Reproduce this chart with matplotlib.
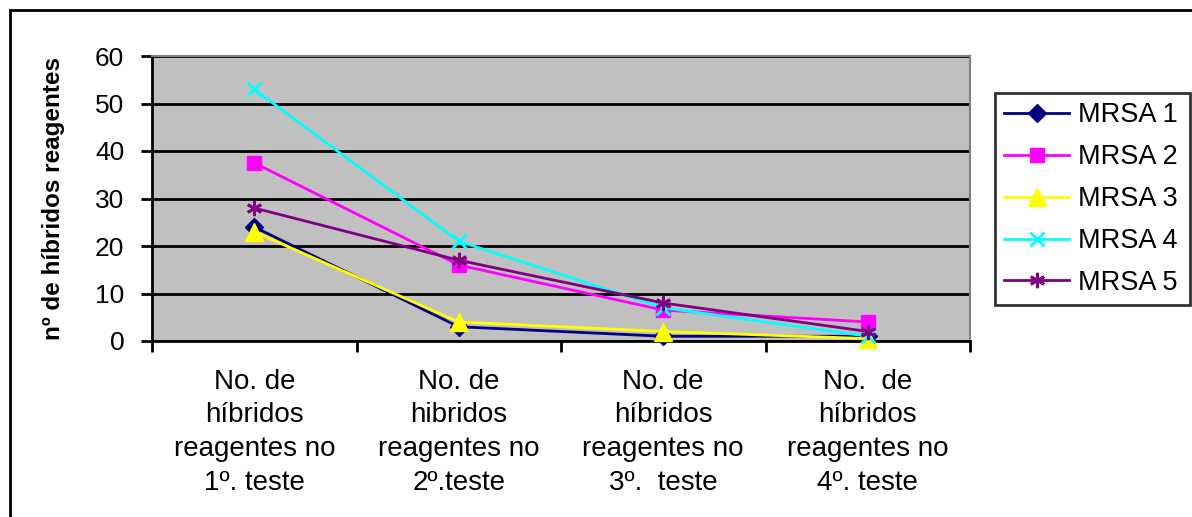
import matplotlib
matplotlib.use("Agg")
import matplotlib.pyplot as plt
from matplotlib.patches import Rectangle

plt.rcParams['font.family'] = ['Liberation Sans', 'DejaVu Sans']

categories = ["No. de\nhíbridos\nreagentes no\n1º. teste",
              "No. de\nhibridos\nreagentes no\n2º.teste",
              "No. de\nhíbridos\nreagentes no\n3º.  teste",
              "No.  de\nhíbridos\nreagentes no\n4º. teste"]
series_names = ["MRSA 1", "MRSA 2", "MRSA 3", "MRSA 4", "MRSA 5"]
mrsa1 = [24, 3, 1, 1]
mrsa2 = [37.5, 16, 6.5, 4]
mrsa3 = [23, 4, 2, 0.5]
mrsa4 = [53, 21, 7, 1]
mrsa5 = [28, 17, 8, 2]
values = [mrsa1, mrsa2, mrsa3, mrsa4, mrsa5]
colors = ["#000080", "#FF00FF", "#FFFF00", "#00FFFF", "#800080"]
markers = ["D", "s", "^", "x", (6, 2, 0)]
msizes = [9, 10, 13, 10, 11]
yticks = [0, 10, 20, 30, 40, 50, 60]

W, H = 1192, 517
fig = plt.figure(figsize=(W / 100, H / 100), dpi=100)
ax = fig.add_axes([152 / W, 1 - 341 / H, (970 - 152) / W, (341 - 56) / H])
ax.set_facecolor("#C0C0C0")

x = list(range(len(categories)))
for vals, name, c, m, ms in zip(values, series_names, colors, markers, msizes):
    ax.plot(x, vals, color=c, lw=2, marker=m, markersize=ms,
            markerfacecolor=c, markeredgecolor=c,
            markeredgewidth=2 if (m == "x" or isinstance(m, tuple)) else 1,
            label=name, clip_on=False, zorder=3)

ax.set_xlim(-0.5, len(categories) - 0.5)
ax.set_ylim(0, 60)
ax.set_yticks(yticks)
ax.set_yticklabels([str(v) for v in yticks], fontsize=19)
ax.yaxis.grid(True, color="black", lw=2)
ax.set_axisbelow(True)
ax.set_xticks([i - 0.5 for i in range(len(categories) + 1)])
ax.set_xticklabels([])
ax.set_xticks(x, minor=True)
ax.set_xticklabels(categories, minor=True, fontsize=20, linespacing=1.38)
ax.tick_params(axis="x", which="minor", length=0, pad=20)
ax.tick_params(axis="x", which="major", length=8, width=2, direction="out")
ax.tick_params(axis="y", length=8, width=2, direction="out", pad=12)

for s in ["top", "right"]:
    ax.spines[s].set_color("#808080")
    ax.spines[s].set_linewidth(1.5)
for s in ["left", "bottom"]:
    ax.spines[s].set_color("black")
    ax.spines[s].set_linewidth(2)

ax.set_ylabel("nº de híbridos reagentes", fontsize=17.5, fontweight="bold")
ax.yaxis.set_label_coords((65 - 152) / (970 - 152), 0.5)

leg = ax.legend(loc="upper left", bbox_to_anchor=(995 / W, 1 - 302 / H, 195 / W, 209 / H),
                bbox_transform=fig.transFigure, mode="expand",
                fontsize=19.5, frameon=True, fancybox=False, edgecolor="black",
                borderaxespad=0, handlelength=2.4, labelspacing=0.585, borderpad=0.35,
                handletextpad=0.3)
leg.get_frame().set_linewidth(2)

fig.patches.append(Rectangle((10 / W, -0.1), 1.2, 1 - 10 / H + 0.1, transform=fig.transFigure,
                             fill=False, edgecolor="black", lw=2))

fig.savefig("out.png", dpi=100)
